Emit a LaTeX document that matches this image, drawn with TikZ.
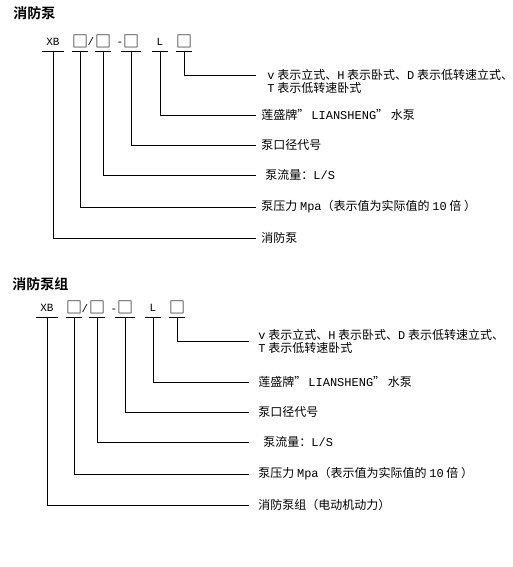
\documentclass[tikz,border=0pt]{standalone}
\usepackage{fontspec}
\setmainfont{Noto Sans CJK SC}[BoldFont={Noto Sans CJK SC Bold}]
\newfontfamily\lat{Liberation Mono}

\begin{document}
\begin{tikzpicture}[x=1pt, y=-1pt, line width=0.8pt,
    title/.style = {anchor=west, inner sep=0pt, font={\fontsize{14}{16}\selectfont\bfseries}},
    code/.style = {anchor=south, inner xsep=0pt, inner ysep=5pt, text height=10pt, text depth=0pt, font={\fontsize{11}{13}\selectfont\lat}},
    sq/.style = {code, inner ysep=3pt, font={\fontsize{16}{16}\selectfont}},
    sep/.style = {anchor=base, inner sep=0pt, font={\fontsize{11}{13}\selectfont\lat}},
    lbl/.style = {anchor=west, inner ysep=0pt, inner xsep=5pt, align=left, font={\fontsize{12}{13}\selectfont}},
    ]
  \useasboundingbox (0,0) rectangle (512,567);

  % pump
  \node[title] (ta) at (13,13) {消防泵};

  \node[code, minimum width=22pt] (xa) at (53,51) {XB};
  \node[sq, minimum width=14pt] (pa) at (80,51) {□};
  \node[sep] (sa) at (91,46) {/};
  \node[sq, minimum width=15pt] (qa) at (103,51) {□};
  \node[sep] (da) at (120,46) {-};
  \node[sq, minimum width=20pt] (ra) at (131,51) {□};
  \node[code, minimum width=15pt] (la) at (160,51) {L};
  \node[sq, minimum width=14pt] (ua) at (184,51) {□};

  \node[lbl, inner xsep=11pt] (a6) at (256,81.5) {{\lat v} 表示立式、{\lat H} 表示卧式、{\lat D} 表示低转速立式、\\{\lat T} 表示低转速卧式};
  \node[lbl] (a5) at (256,115) {莲盛牌”{\lat\,LIANSHENG}” 水泵};
  \node[lbl] (a4) at (256,145) {泵口径代号};
  \node[lbl] (a3) at (256,175) {\hspace*{4pt}泵流量：{\lat L/S}};
  \node[lbl] (a2) at (256,207) {泵压力 {\lat Mpa}（表示值为实际值的 {\lat 10} 倍 ）};
  \node[lbl] (a1) at (256,238) {消防泵};

  \foreach \n in {xa,pa,qa,ra,la,ua}
    \draw (\n.south west) -- (\n.south east);
  \draw (ua.south) |- ([yshift=6.5pt]a6.west);
  \draw (la.south) |- (a5.west);
  \draw (ra.south) |- (a4.west);
  \draw (qa.south) |- (a3.west);
  \draw (pa.south) |- (a2.west);
  \draw (xa.south) |- (a1.west);

  % pump set
  \node[title] (tb) at (12,284) {消防泵组};

  \node[code, minimum width=22pt] (xb) at (47,317) {XB};
  \node[sq, minimum width=14pt] (pb) at (74,317) {□};
  \node[sep] (sb) at (85,312) {/};
  \node[sq, minimum width=15pt] (qb) at (97,317) {□};
  \node[sep] (db) at (114,312) {-};
  \node[sq, minimum width=20pt] (rb) at (125,317) {□};
  \node[code, minimum width=15pt] (lb) at (153,317) {L};
  \node[sq, minimum width=14pt] (ub) at (177,317) {□};

  \node[lbl, inner xsep=9pt] (b6) at (249,341.5) {{\lat v} 表示立式、{\lat H} 表示卧式、{\lat D} 表示低转速立式、\\{\lat T} 表示低转速卧式};
  \node[lbl, inner xsep=9pt] (b5) at (249,382) {莲盛牌”{\lat\,LIANSHENG}” 水泵};
  \node[lbl, inner xsep=9pt] (b4) at (249,412) {泵口径代号};
  \node[lbl, inner xsep=9pt] (b3) at (249,442) {\hspace*{5pt}泵流量：{\lat L/S}};
  \node[lbl, inner xsep=9pt] (b2) at (249,474) {泵压力 {\lat Mpa}（表示值为实际值的 {\lat 10} 倍 ）};
  \node[lbl, inner xsep=9pt] (b1) at (249,505) {消防泵组（电动机动力）};

  \foreach \n in {xb,pb,qb,rb,lb,ub}
    \draw (\n.south west) -- (\n.south east);
  \draw (ub.south) |- (b6.west);
  \draw (lb.south) |- (b5.west);
  \draw (rb.south) |- (b4.west);
  \draw (qb.south) |- (b3.west);
  \draw (pb.south) |- (b2.west);
  \draw (xb.south) |- (b1.west);
\end{tikzpicture}
\end{document}
